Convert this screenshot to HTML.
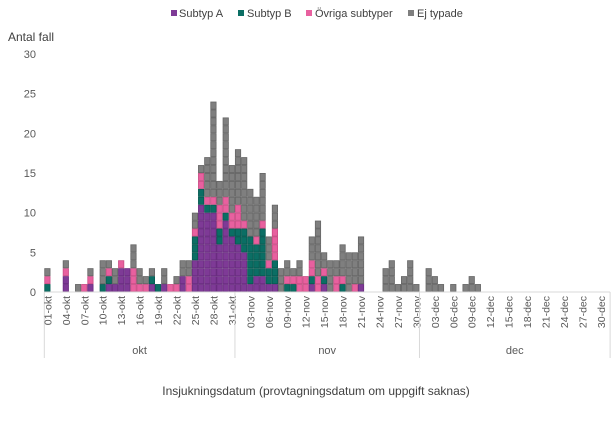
<!DOCTYPE html>
<html><head><meta charset="utf-8">
<style>
body{margin:0;background:#fff;}
svg{display:block;font-family:"Liberation Sans",sans-serif;}
</style></head>
<body>
<svg id="chart" width="616" height="424" viewBox="0 0 616 424">
  <g font-size="11" fill="#404040">
    <rect x="171" y="10" width="6" height="6" fill="#7e3a96"/>
    <text x="179" y="17">Subtyp A</text>
    <rect x="238" y="10" width="6" height="6" fill="#0b6e64"/>
    <text x="247" y="17">Subtyp B</text>
    <rect x="306" y="10" width="6" height="6" fill="#e8609f"/>
    <text x="315" y="17">Övriga subtyper</text>
    <rect x="408" y="10" width="6" height="6" fill="#7f7f7f"/>
    <text x="417" y="17">Ej typade</text>
  </g>
  <text x="8" y="41" font-size="12" fill="#404040">Antal fall</text>
  <g id="yaxis"></g>
  <g id="bars"></g>
  <g id="xaxis"></g>
  <text x="316" y="395" font-size="12" fill="#404040" text-anchor="middle">Insjukningsdatum (provtagningsdatum om uppgift saknas)</text>
</svg>
<script>
const subA = [0,0,0,2,0,0,0,1,0,0,1,1,3,3,0,0,0,1,0,1,0,0,2,0,4,11,10,10,6,9,7,6,5,1,2,2,1,1,0,0,0,0,0,1,0,1,0,0,0,0,0,1,0,0,0,0,0,0,0,0,0,0,0,0,0,0,0,0,0,0,0,0,0,0,0,0,0,0,0,0,0,0,0,0,0,0,0,0,0,0,0,0];
const subB = [1,0,0,0,0,0,0,0,0,1,1,0,0,0,0,0,0,1,1,0,0,0,0,0,3,2,1,1,2,1,1,2,3,6,4,6,2,3,0,1,1,0,0,1,0,1,0,0,1,0,0,0,0,0,0,0,0,0,0,0,0,0,0,0,0,0,0,0,0,0,0,0,0,0,0,0,0,0,0,0,0,0,0,0,0,0,0,0,0,0,0,0];
const ovriga = [1,0,0,1,0,0,1,1,0,0,1,0,1,0,3,1,1,0,0,0,1,1,0,2,1,2,1,1,3,2,2,3,1,0,1,1,1,4,0,1,1,2,2,2,2,1,0,2,1,0,1,0,0,0,0,0,0,0,0,0,0,0,0,0,0,0,0,0,0,0,0,0,0,0,0,0,0,0,0,0,0,0,0,0,0,0,0,0,0,0,0,0];
const ejTypade = [1,0,0,1,0,1,0,1,0,3,1,2,0,0,3,2,1,1,0,2,0,1,2,2,2,1,5,12,3,10,6,7,8,6,5,6,3,3,3,2,1,2,0,3,7,2,4,2,4,5,4,6,0,0,0,3,4,1,2,4,1,0,3,2,1,0,1,0,1,2,1,0,0,0,0,0,0,0,0,0,0,0,0,0,0,0,0,0,0,0,0,0];
const yTicks = [0,5,10,15,20,25,30];
const months = ["okt","nov","dec"];
const monthDays = [31,30,31];

const NS="http://www.w3.org/2000/svg";
const x0=44.3, dayW=6.15, y0=292, unit=238/30;
function xPos(i){return x0+i*dayW;}
function yPos(v){return y0-v*unit;}
function mk(tag,attrs,parent){const e=document.createElementNS(NS,tag);for(const k in attrs)e.setAttribute(k,attrs[k]);parent.appendChild(e);return e;}

const yaxis=document.getElementById('yaxis');
yTicks.forEach(t=>{
  const tx=mk('text',{x:36,y:yPos(t)+4,'font-size':11,fill:'#595959','text-anchor':'end'},yaxis);
  tx.textContent=t;
  
  
});

const bars=document.getElementById('bars');
const series=[[subA,'#7e3a96','#6a2d80'],[subB,'#0b6e64','#085a52'],[ovriga,'#e8609f','#c94f86'],[ejTypade,'#7f7f7f','#666666']];
const nDays=subA.length;
for(let i=0;i<nDays;i++){
  let stack=0;
  series.forEach(([arr,fill,stroke])=>{
    for(let k=0;k<arr[i];k++){
      const r=mk('rect',{x:xPos(i)+0.4,y:yPos(stack+1)+0.4,width:dayW-0.8,height:unit-0.8,fill:fill,stroke:stroke,'stroke-width':0.8},bars);
      
      
      stack++;
    }
  });
}

const xaxis=document.getElementById('xaxis');
const axl=mk('line',{x1:x0,y1:y0,x2:xPos(nDays),y2:y0,stroke:'#d9d9d9','stroke-width':1},xaxis);


let day=0;
months.forEach((m,mi)=>{
  const start=day;
  const sep=mk('line',{x1:xPos(start),y1:y0,x2:xPos(start),y2:358,stroke:'#d9d9d9','stroke-width':1},xaxis);
  
  
  for(let d=1;d<=monthDays[mi];d++){
    const gi=start+d-1;
    if(gi%3!==0) continue;
    const cx=xPos(gi)+dayW/2;
    const lbl=(d<10?'0':'')+d+'-'+m;
    const t=mk('text',{x:0,y:0,'font-size':10.5,fill:'#595959','text-anchor':'end',transform:`translate(${cx+4},${y0+4}) rotate(-90)`},xaxis);
    t.textContent=lbl;
    
    
  }
  day+=monthDays[mi];
  const mt=mk('text',{x:(xPos(start)+xPos(day))/2,y:354,'font-size':11,fill:'#595959','text-anchor':'middle'},xaxis);
  mt.textContent=m;
  
  
});
const endSep=mk('line',{x1:xPos(day),y1:y0,x2:xPos(day),y2:358,stroke:'#d9d9d9','stroke-width':1},xaxis);


</script>
</body></html>
